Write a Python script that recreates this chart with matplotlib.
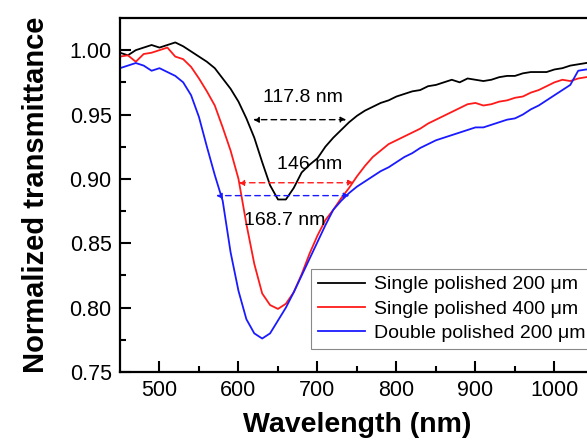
import numpy as np
import matplotlib
matplotlib.use("Agg")
import matplotlib.pyplot as plt

plt.rcParams['font.family'] = ['Liberation Sans', 'DejaVu Sans']

# wavelength grid (nm)
wl = [450, 460, 470, 480, 490, 500, 510, 520, 530, 540,
      550, 560, 570, 580, 590, 600, 610, 620, 630, 640,
      650, 660, 670, 680, 690, 700, 710, 720, 730, 740,
      750, 760, 770, 780, 790, 800, 810, 820, 830, 840,
      850, 860, 870, 880, 890, 900, 910, 920, 930, 940,
      950, 960, 970, 980, 990, 1000, 1010, 1020, 1030, 1040, 1050]

single_200 = [0.998, 0.996, 1.000, 1.002, 1.004, 1.002, 1.004, 1.006, 1.003, 0.999,
              0.995, 0.991, 0.986, 0.978, 0.970, 0.960, 0.947, 0.932, 0.913, 0.895,
              0.884, 0.884, 0.893, 0.905, 0.911, 0.916, 0.925, 0.932, 0.938, 0.944,
              0.949, 0.953, 0.956, 0.959, 0.961, 0.964, 0.966, 0.968, 0.969, 0.972,
              0.973, 0.975, 0.977, 0.975, 0.978, 0.977, 0.976, 0.977, 0.979, 0.980,
              0.980, 0.982, 0.983, 0.983, 0.983, 0.985, 0.986, 0.988, 0.989, 0.990, 0.991]

single_400 = [0.995, 0.996, 0.991, 0.997, 0.998, 1.000, 1.002, 0.995, 0.993, 0.987,
              0.978, 0.968, 0.957, 0.940, 0.922, 0.900, 0.865, 0.834, 0.811, 0.802,
              0.799, 0.803, 0.812, 0.826, 0.842, 0.856, 0.868, 0.876, 0.885, 0.893,
              0.902, 0.910, 0.917, 0.922, 0.927, 0.930, 0.933, 0.936, 0.939, 0.943,
              0.946, 0.949, 0.952, 0.955, 0.958, 0.959, 0.957, 0.958, 0.960, 0.961,
              0.963, 0.964, 0.967, 0.969, 0.972, 0.975, 0.977, 0.976, 0.978, 0.979, 0.980]

double_200 = [0.986, 0.988, 0.990, 0.988, 0.984, 0.986, 0.983, 0.980, 0.975, 0.965,
              0.948, 0.925, 0.903, 0.883, 0.843, 0.813, 0.791, 0.780, 0.776, 0.780,
              0.790, 0.800, 0.812, 0.825, 0.838, 0.851, 0.864, 0.876, 0.883, 0.889,
              0.894, 0.898, 0.902, 0.906, 0.909, 0.913, 0.917, 0.920, 0.924, 0.927,
              0.930, 0.932, 0.934, 0.936, 0.938, 0.940, 0.940, 0.942, 0.944, 0.946,
              0.947, 0.950, 0.954, 0.957, 0.961, 0.965, 0.969, 0.973, 0.984, 0.985, 0.985]

labels = ['Single polished 200 \u03bcm', 'Single polished 400 \u03bcm', 'Double polished 200 \u03bcm']
colors = ['black', '#ff1a1a', '#1a1aff']

# FWHM markers: value (nm), centre (nm), level
fwhm = [117.8, 146.0, 168.7]
fwhm_centre = [677.5, 673.0, 656.0]
fwhm_level = [0.946, 0.897, 0.887]
fwhm_text_xy = [(682, 0.963), (690, 0.911), (659, 0.868)]

fig = plt.figure(figsize=(5.87, 4.47), dpi=100)
ax = fig.add_axes([0.2044, 0.1678, 0.8075, 0.792])

for y, lab, c in zip([single_200, single_400, double_200], labels, colors):
    ax.plot(wl, y, color=c, lw=1.3, label=lab)

for w, cx, lev, c, (tx, ty) in zip(fwhm, fwhm_centre, fwhm_level, colors, fwhm_text_xy):
    ax.annotate('', xy=(cx - w / 2, lev), xytext=(cx + w / 2, lev),
                arrowprops=dict(arrowstyle='<|-|>', color=c, lw=1.0,
                                linestyle=(0, (4, 3)), mutation_scale=8,
                                shrinkA=0, shrinkB=0))
    ax.text(tx, ty, f'{w:g} nm', ha='center', va='center', fontsize=14)

ax.set_xlim(450, 1050)
ax.set_ylim(0.75, 1.025)
ax.set_xticks([500, 600, 700, 800, 900, 1000])
ax.set_xticks(np.arange(550, 1050, 100), minor=True)
ax.set_yticks([0.75, 0.80, 0.85, 0.90, 0.95, 1.00])
ax.set_yticks([0.775, 0.825, 0.875, 0.925, 0.975], minor=True)
ax.yaxis.set_major_formatter(matplotlib.ticker.FormatStrFormatter('%.2f'))
ax.tick_params(which='both', direction='in', width=1.5, labelsize=15.5, pad=6)
ax.tick_params(which='major', length=8)
ax.tick_params(which='minor', length=4)
for s in ax.spines.values():
    s.set_linewidth(1.6)

ax.set_xlabel('Wavelength (nm)', fontsize=20.5, fontweight='bold', labelpad=8)
ax.set_ylabel('Normalized transmittance', fontsize=21, fontweight='bold', labelpad=14)

leg = ax.legend(loc='lower left', bbox_to_anchor=(0.530, 0.219),
                bbox_transform=fig.transFigure, fontsize=14, frameon=True,
                fancybox=False, edgecolor='#888888', framealpha=1,
                handlelength=2.4, labelspacing=0.35, borderpad=0.35,
                handletextpad=0.5, borderaxespad=0)
leg.get_frame().set_linewidth(0.8)

fig.savefig('out.png', dpi=100)
